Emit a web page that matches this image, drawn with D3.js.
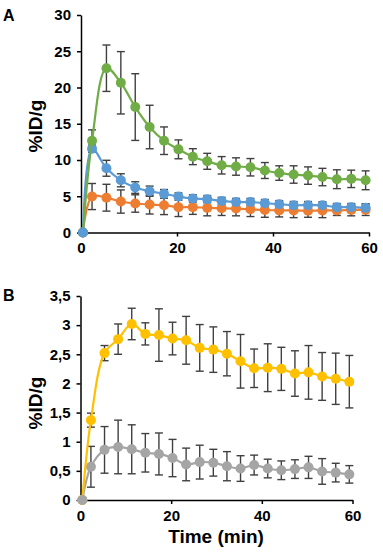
<!DOCTYPE html>
<html>
<head>
<meta charset="utf-8">
<script src="https://cdn.jsdelivr.net/npm/d3@7"></script>
<style>
  html, body { margin: 0; padding: 0; background: #fff; }
  svg { display: block; }
  text { font-family: "Liberation Sans", Arial, sans-serif; font-weight: bold; fill: #000; }
</style>
</head>
<body>
<svg id="chart" width="383" height="559"></svg>
<script>
// ---- Data ----
const times = [0.4, 2.3, 5.3, 8.3, 11.3, 14.3, 17.3, 20.3, 23.3, 26.3, 29.3, 32.3, 35.3, 38.3, 41.3, 44.3, 47.3, 50.3, 53.3, 56.3, 59.3];

// Panel A
const greenA = [0, 12.66, 22.66, 20.65, 17.3, 14.55, 12.66, 11.47, 10.46, 9.82, 9.27, 9.1, 9.0, 8.55, 8.2, 8.0, 7.85, 7.65, 7.35, 7.4, 7.2];
const greenAErr = [0, 1.5, 3.2, 4.3, 4.6, 3.0, 1.9, 1.3, 1.1, 1.1, 1.2, 1.2, 1.2, 1.1, 1.0, 1.2, 1.2, 1.2, 1.3, 1.2, 1.3];
const blueA = [0, 11.56, 8.86, 7.2, 6.2, 5.7, 5.33, 4.96, 4.7, 4.6, 4.35, 4.2, 4.2, 4.05, 3.9, 3.77, 3.77, 3.75, 3.5, 3.5, 3.4];
const blueAErr = [0, 0.5, 1.1, 0.9, 0.8, 0.7, 0.6, 0.5, 0.5, 0.5, 0.5, 0.5, 0.5, 0.5, 0.5, 0.5, 0.5, 0.5, 0.5, 0.5, 0.5];
const orangeA = [0, 4.96, 4.8, 4.27, 4.0, 3.85, 3.77, 3.5, 3.5, 3.4, 3.35, 3.3, 3.2, 3.1, 3.05, 3.05, 3.0, 3.05, 3.05, 3.1, 3.15];
const orangeAErr = [0, 1.8, 1.85, 1.6, 1.2, 1.3, 1.3, 1.3, 1.0, 1.1, 1.0, 1.0, 1.0, 1.0, 0.9, 1.0, 0.9, 1.0, 0.7, 0.8, 0.8];

// Panel B
const yellowB = [0, 1.37, 2.52, 2.76, 3.02, 2.85, 2.83, 2.77, 2.74, 2.61, 2.58, 2.51, 2.38, 2.26, 2.27, 2.25, 2.17, 2.19, 2.12, 2.08, 2.03];
const yellowBErr = [0, 0.12, 0.13, 0.26, 0.27, 0.19, 0.45, 0.28, 0.41, 0.40, 0.39, 0.38, 0.46, 0.33, 0.41, 0.37, 0.39, 0.46, 0.41, 0.44, 0.45];
const grayB = [0, 0.57, 0.86, 0.91, 0.87, 0.81, 0.79, 0.72, 0.61, 0.65, 0.64, 0.58, 0.54, 0.60, 0.54, 0.51, 0.53, 0.56, 0.49, 0.47, 0.44];
const grayBErr = [0, 0.35, 0.40, 0.46, 0.42, 0.33, 0.36, 0.32, 0.28, 0.29, 0.23, 0.25, 0.22, 0.17, 0.16, 0.16, 0.16, 0.19, 0.22, 0.16, 0.15];

const xTicks = [0, 20, 40, 60];
const yTicksA = [0, 5, 10, 15, 20, 25, 30];
const yTicksB = [0, 0.5, 1, 1.5, 2, 2.5, 3, 3.5];
const yTickLabelsB = ["0", "0,5", "1", "1,5", "2", "2,5", "3", "3,5"];

const colors = { green: "#70AD47", blue: "#5B9BD5", orange: "#ED7D31", yellow: "#FFC000", gray: "#A5A5A5" };
const errColor = "#404040";

const svg = d3.select("#chart");

function panel(cfg) {
  const g = svg.append("g");
  const x = d3.scaleLinear().domain([0, 60]).range(cfg.xRange);
  const y = d3.scaleLinear().domain(cfg.yDomain).range(cfg.yRange);

  const xAxis = d3.axisBottom(x).tickValues(xTicks).tickSize(4).tickSizeOuter(0).tickPadding(6);
  const yAxis = d3.axisLeft(y).tickValues(cfg.yTicks).tickSize(4).tickSizeOuter(0).tickPadding(6)
    .tickFormat((d, i) => cfg.yLabels ? cfg.yLabels[i] : d);

  const gx = g.append("g").attr("transform", `translate(0,${cfg.yRange[0]})`).call(xAxis);
  const gy = g.append("g").attr("transform", `translate(${cfg.xRange[0]},0)`).call(yAxis);
  [gx, gy].forEach(a => {
    a.select(".domain").attr("stroke", "#000").attr("stroke-width", 1.5);
    a.selectAll(".tick line").attr("stroke", "#000").attr("stroke-width", 1.5);
    a.selectAll(".tick text").attr("font-size", 15).attr("font-family", "Liberation Sans, Arial, sans-serif").attr("font-weight", "bold").attr("fill", "#000");
  });
  g.append("text")
    .attr("transform", `translate(${cfg.yLabelX},${cfg.yLabelY}) rotate(-90)`)
    .attr("text-anchor", "middle")
    .attr("font-size", 19)
    .text("%ID/g");
  g.append("text").attr("x", 3).attr("y", cfg.letterY).attr("font-size", 16).text(cfg.letter);

  const line = d3.line().x((d, i) => x(times[i])).y(d => y(d)).curve(d3.curveCatmullRom.alpha(0.5));

  // error bars
  cfg.series.forEach(s => {
    const eb = g.append("g").attr("stroke", errColor).attr("stroke-width", 1.4).attr("fill", "none");
    s.values.forEach((v, i) => {
      const e = s.err[i];
      if (!e) return;
      const cx = x(times[i]);
      eb.append("line").attr("x1", cx).attr("x2", cx).attr("y1", y(v - e)).attr("y2", y(v + e));
      eb.append("line").attr("x1", cx - 4).attr("x2", cx + 4).attr("y1", y(v - e)).attr("y2", y(v - e));
      eb.append("line").attr("x1", cx - 4).attr("x2", cx + 4).attr("y1", y(v + e)).attr("y2", y(v + e));
    });
  });
  // lines and markers
  cfg.series.forEach(s => {
    g.append("path").datum(s.values).attr("d", line)
      .attr("fill", "none").attr("stroke", s.color).attr("stroke-width", 2.2);
    g.append("g").selectAll("circle").data(s.values).join("circle")
      .attr("cx", (d, i) => x(times[i])).attr("cy", d => y(d)).attr("r", 5)
      .attr("fill", s.color);
  });
  // the start point of the designated series sits on top
  const top = cfg.series.find(s => s.topZero);
  if (top) {
    g.append("circle").attr("cx", x(times[0])).attr("cy", y(top.values[0])).attr("r", 5).attr("fill", top.color);
  }
}

panel({
  xRange: [81, 369], yDomain: [0, 30], yRange: [232.5, 15], yTicks: yTicksA,
  yLabelX: 42, yLabelY: 126, letter: "A", letterY: 21,
  series: [
    { values: orangeA, err: orangeAErr, color: colors.orange },
    { values: blueA, err: blueAErr, color: colors.blue, topZero: true },
    { values: greenA, err: greenAErr, color: colors.green }
  ]
});

panel({
  xRange: [80.5, 352.5], yDomain: [0, 3.5], yRange: [500, 296], yTicks: yTicksB, yLabels: yTickLabelsB,
  yLabelX: 42, yLabelY: 403, letter: "B", letterY: 301,
  series: [
    { values: grayB, err: grayBErr, color: colors.gray, topZero: true },
    { values: yellowB, err: yellowBErr, color: colors.yellow }
  ]
});

svg.append("text").attr("x", 216).attr("y", 543).attr("text-anchor", "middle")
  .attr("font-size", 19).text("Time (min)");
</script>
</body>
</html>
